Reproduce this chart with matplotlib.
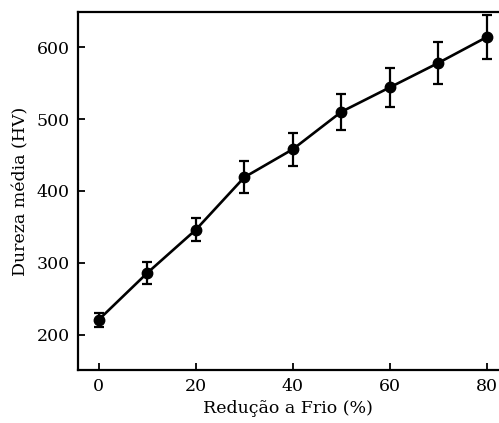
import matplotlib
matplotlib.use("Agg")
import matplotlib.pyplot as plt

reducao = [0, 10, 20, 30, 40, 50, 60, 70, 80]
dureza = [221, 286, 346, 419, 458, 510, 544, 578, 614]
erro = [10, 15, 16, 22, 23, 25, 27, 29, 30]
xticks = [0, 20, 40, 60, 80]
yticks = [200, 300, 400, 500, 600]

plt.rcParams['font.family'] = ['DejaVu Serif']

fig = plt.figure(figsize=(4.99, 4.23), dpi=100)
ax = fig.add_axes([0.156, 0.125, 0.844, 0.847])

ax.errorbar(reducao, dureza, yerr=erro, color='black', lw=1.9, marker='o',
            markersize=7.5, capsize=3.5, capthick=1.6, elinewidth=1.6)

ax.set_xlim(-4.3, 82.5)
ax.set_ylim(151, 649)
ax.set_xticks(xticks)
ax.set_yticks(yticks)
ax.spines['right'].set_visible(False)
for s in ['left', 'bottom', 'top']:
    ax.spines[s].set_linewidth(1.6)
ax.tick_params(direction='in', length=5, width=1.3, labelsize=12.5, pad=6)
ax.set_xlabel('Redução a Frio (%)', fontsize=12.5, labelpad=3)
ax.set_ylabel('Dureza média (HV)', fontsize=12.5, labelpad=5)

fig.savefig('out.png', dpi=100)
